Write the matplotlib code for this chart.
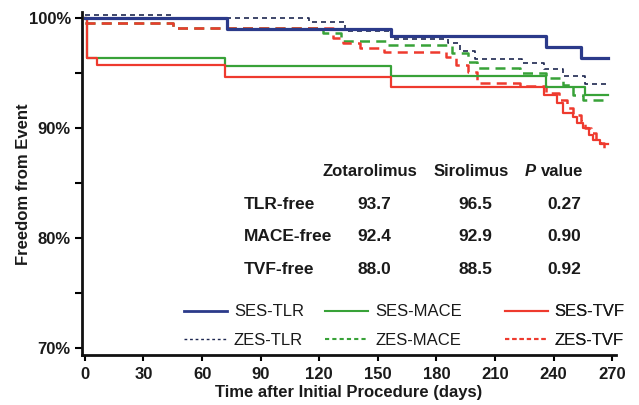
import matplotlib
matplotlib.use("Agg")
import matplotlib.pyplot as plt
from matplotlib.lines import Line2D

plt.rcParams['font.family'] = ['Liberation Sans', 'DejaVu Sans']

######################################################################
# DATA (Kaplan-Meier steps)

END_DAY = 268

ses_tlr_days = [0, 73, 157, 236, 254]
ses_tlr_vals = [100.0, 99.0, 98.35, 97.4, 96.4]

zes_tlr_days = [0, 45, 115, 133, 157, 186, 192, 200, 224, 235, 245, 256]
zes_tlr_vals = [100.3, 100.0, 99.6, 98.8, 98.1, 97.7, 97.0, 96.3, 95.9, 95.4, 94.7, 94.0]

ses_mace_days = [0, 1, 72, 157, 236, 256]
ses_mace_vals = [100.0, 96.4, 95.6, 94.7, 93.75, 93.0]

zes_mace_days = [0, 45, 122, 131, 154, 188, 196, 201, 223, 236, 245, 250, 255]
zes_mace_vals = [99.5, 99.06, 98.6, 97.9, 97.5, 96.8, 96.0, 95.45, 95.0, 94.5, 93.9, 93.0, 92.5]

ses_tvf_days = [0, 1, 6, 72, 157, 235, 242, 245, 250, 252, 255, 258, 260, 264]
ses_tvf_vals = [100.0, 96.4, 95.7, 94.6, 93.7, 93.0, 92.3, 91.4, 91.0, 90.45, 90.0, 89.4, 88.9, 88.5]

zes_tvf_days = [0, 45, 127, 132, 141, 153, 185, 190, 196, 201, 223, 236, 243, 247,
                250, 254, 256, 259, 262, 264, 266]
zes_tvf_vals = [99.5, 99.06, 98.2, 97.7, 97.3, 96.9, 96.45, 95.7, 95.1, 94.1, 93.8, 93.2,
                92.5, 91.8, 91.2, 90.6, 90.0, 89.5, 89.0, 88.6, 88.0]

table_header = ["Zotarolimus", "Sirolimus", "value"]
table_rows = ["TLR-free", "MACE-free", "TVF-free"]
zes_free = ["93.7", "92.4", "88.0"]
ses_free = ["96.5", "92.9", "88.5"]
p_values = ["0.27", "0.90", "0.92"]

x_ticks = [0, 30, 60, 90, 120, 150, 180, 210, 240, 270]
y_ticks = [70, 80, 90, 100]
y_minor = [75, 85, 95]

######################################################################
# STYLE

NAVY = '#2b3a8a'
NAVY_D = '#1e2750'
GREEN = '#38a238'
RED = '#ee3a2e'
TXT = '#1a1a1a'


def steps(days, vals):
    return list(days) + [END_DAY], list(vals) + [vals[-1]]


fig = plt.figure(figsize=(6.39, 4.05), dpi=100)
ax = fig.add_axes([0.1283, 0.1235, 0.8357, 0.8457])

# dashed (ZES) first, then solid (SES)
x, y = steps(zes_tlr_days, zes_tlr_vals)
ax.step(x, y, where='post', color=NAVY_D, lw=1.2, dashes=(3, 2.4))
x, y = steps(zes_mace_days, zes_mace_vals)
ax.step(x, y, where='post', color=GREEN, lw=1.8, dashes=(4, 2.5))
x, y = steps(zes_tvf_days, zes_tvf_vals)
ax.step(x, y, where='post', color=RED, lw=1.8, dashes=(4, 2.5))

x, y = steps(ses_mace_days, ses_mace_vals)
ax.step(x, y, where='post', color=GREEN, lw=1.6)
x, y = steps(ses_tvf_days, ses_tvf_vals)
ax.step(x, y, where='post', color=RED, lw=1.6)
x, y = steps(ses_tlr_days, ses_tlr_vals)
ax.step(x, y, where='post', color=NAVY, lw=2.3)

ax.set_xlim(-1.5, 272)
ax.set_ylim(69.35, 100.5)

for s in ['top', 'right']:
    ax.spines[s].set_visible(False)
for s in ['left', 'bottom']:
    ax.spines[s].set_linewidth(2)
    ax.spines[s].set_color('#111111')

ax.set_xticks(x_ticks)
ax.set_xticklabels([str(v) for v in x_ticks], fontsize=12, fontweight='bold', color=TXT)
ax.set_yticks(y_ticks)
ax.set_yticklabels([f"{v}%" for v in y_ticks], fontsize=12, fontweight='bold', color=TXT)
ax.set_yticks(y_minor, minor=True)
ax.tick_params(axis='y', which='both', length=5, width=1.5, pad=3)
ax.tick_params(axis='x', length=4, width=1.5, pad=5)

ax.set_xlabel('Time after Initial Procedure (days)', fontsize=12, fontweight='bold',
              color=TXT, labelpad=2)
ax.set_ylabel('Freedom from Event', fontsize=12, fontweight='bold', color=TXT, labelpad=-1.5)

# summary table
hy = 86.0
ax.text(146, hy, table_header[0], ha='center', va='center', fontsize=12,
        fontweight='bold', color=TXT)
ax.text(198, hy, table_header[1], ha='center', va='center', fontsize=12,
        fontweight='bold', color=TXT)
ax.text(225.4, hy, 'P', ha='left', va='center', fontsize=12, fontweight='bold',
        fontstyle='italic', color=TXT)
ax.text(233.6, hy, table_header[2], ha='left', va='center', fontsize=12,
        fontweight='bold', color=TXT)

row_y = [83.0, 80.1, 77.1]
for i, ry in enumerate(row_y):
    ax.text(81.5, ry, table_rows[i], ha='left', va='center', fontsize=12.5,
            fontweight='bold', color=TXT)
    ax.text(148, ry, zes_free[i], ha='center', va='center', fontsize=12.5,
            fontweight='bold', color=TXT)
    ax.text(200, ry, ses_free[i], ha='center', va='center', fontsize=12.5,
            fontweight='bold', color=TXT)
    ax.text(245.4, ry, p_values[i], ha='center', va='center', fontsize=12.5,
            fontweight='bold', color=TXT)

# legend, three blocks of two rows
groups = [
    (50.7, [('SES-TLR', NAVY, 2.0, None), ('ZES-TLR', NAVY_D, 1.0, (2, 2))]),
    (123, [('SES-MACE', GREEN, 1.5, None), ('ZES-MACE', GREEN, 1.5, (2, 1.5))]),
    (215, [('SES-TVF', RED, 1.5, None), ('ZES-TVF', RED, 1.5, (2, 1.5))]),
]
for gx, entries in groups:
    handles = []
    for lab, col, lw, dsh in entries:
        h = Line2D([], [], color=col, lw=lw, label=lab)
        if dsh:
            h.set_dashes(dsh)
        handles.append(h)
    leg = ax.legend(handles=handles, loc='upper left', bbox_to_anchor=(gx, 73.95),
                    bbox_transform=ax.transData, frameon=False, borderpad=0,
                    borderaxespad=0, handlelength=2.6, handletextpad=0.4,
                    labelspacing=0.8, prop={'size': 12})
    for t in leg.get_texts():
        t.set_color(TXT)
    ax.add_artist(leg)

fig.savefig('out.png', dpi=100)
